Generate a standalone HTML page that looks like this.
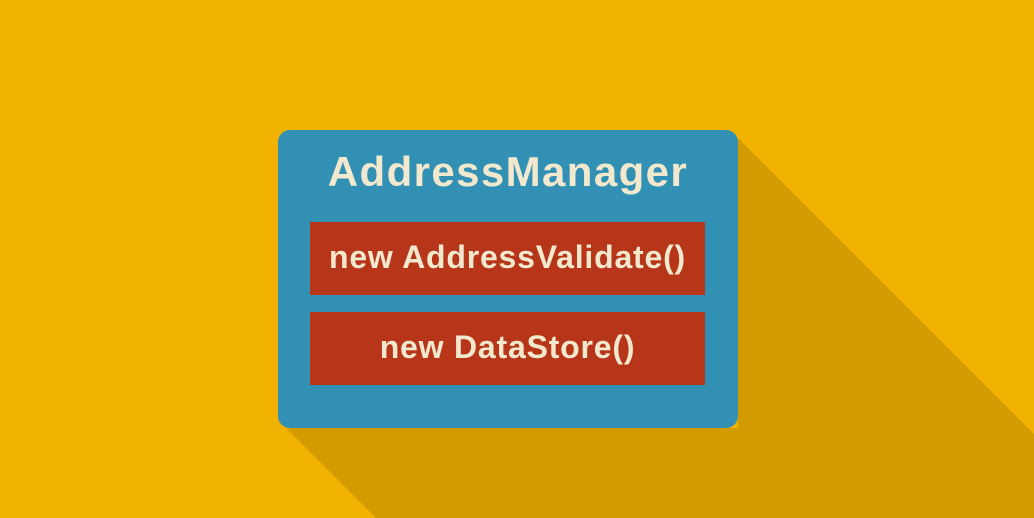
<!DOCTYPE html>
<html><head><style>
html,body{margin:0;padding:0;width:1034px;height:518px;overflow:hidden;background:#F2B200;}
svg{position:absolute;left:0;top:0}
.box{position:absolute;left:278px;top:130px;width:460px;height:298px;background:#3190B4;border-radius:12px;}
.t{position:absolute;left:0;width:460px;top:18px;text-align:center;font:bold 42px "Liberation Sans",sans-serif;color:#F2E8CE;letter-spacing:1.4px;}
.r{position:absolute;left:32px;width:395px;height:73px;background:#B7361A;color:#F2E8CE;font:bold 32px "Liberation Sans",sans-serif;text-align:center;line-height:71px;letter-spacing:0.8px;}
</style></head><body>
<svg width="1034" height="518"><polygon points="738,138 1034,434 1034,518 376,518 286,428 738,428" fill="#D39B00"/></svg>
<div class="box">
<div class="t">AddressManager</div>
<div class="r" style="top:92px">new AddressValidate()</div>
<div class="r" style="top:182px">new DataStore()</div>
</div>
</body></html>
